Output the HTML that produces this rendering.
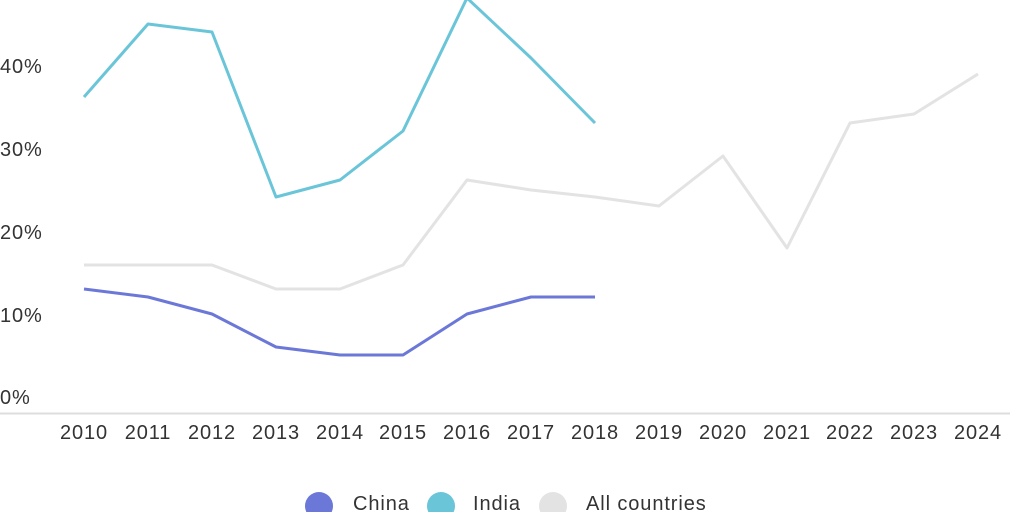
<!DOCTYPE html>
<html><head><meta charset="utf-8"><style>
html,body{margin:0;padding:0;background:#fff;width:1024px;height:512px;overflow:hidden}
svg{display:block}
text{font-family:"Liberation Sans",sans-serif;font-size:20px;letter-spacing:0.9px;fill:#333}
</style></head><body>
<svg width="1024" height="512" viewBox="0 0 1024 512">
<g>
<text x="0" y="73">40%</text>
<text x="0" y="156">30%</text>
<text x="0" y="239">20%</text>
<text x="0" y="322">10%</text>
<text x="0" y="404">0%</text>
</g>
<line x1="0" y1="413.5" x2="1010" y2="413.5" stroke="#ddd" stroke-width="2"/>
<g text-anchor="middle">
<text x="84" y="439">2010</text><text x="148" y="439">2011</text><text x="212" y="439">2012</text>
<text x="276" y="439">2013</text><text x="340" y="439">2014</text><text x="403" y="439">2015</text>
<text x="467" y="439">2016</text><text x="531" y="439">2017</text><text x="595" y="439">2018</text>
<text x="659" y="439">2019</text><text x="723" y="439">2020</text><text x="787" y="439">2021</text>
<text x="850" y="439">2022</text><text x="914" y="439">2023</text><text x="978" y="439">2024</text>
</g>
<polyline fill="none" stroke="#e3e3e3" stroke-width="3" stroke-linejoin="round" points="84,265 148,265 212,265 276,289 340,289 403,265 467,180 531,190 595,197 659,206 723,156 787,248 850,123 914,114 978,74"/>
<polyline fill="none" stroke="#6ac5d9" stroke-width="3" stroke-linejoin="round" points="84,97 148,24 212,32 276,197 340,180 403,131 467,-2 531,58 595,123"/>
<polyline fill="none" stroke="#6b78d8" stroke-width="3" stroke-linejoin="round" points="84,289 148,297 212,314 276,347 340,355 403,355 467,314 531,297 595,297"/>
<circle cx="319" cy="506" r="14" fill="#6b78d8"/>
<text x="353" y="510">China</text>
<circle cx="441" cy="506" r="14" fill="#6ac5d9"/>
<text x="473" y="510">India</text>
<circle cx="553" cy="506" r="14" fill="#e3e3e3"/>
<text x="586" y="510">All countries</text>
</svg>
</body></html>
